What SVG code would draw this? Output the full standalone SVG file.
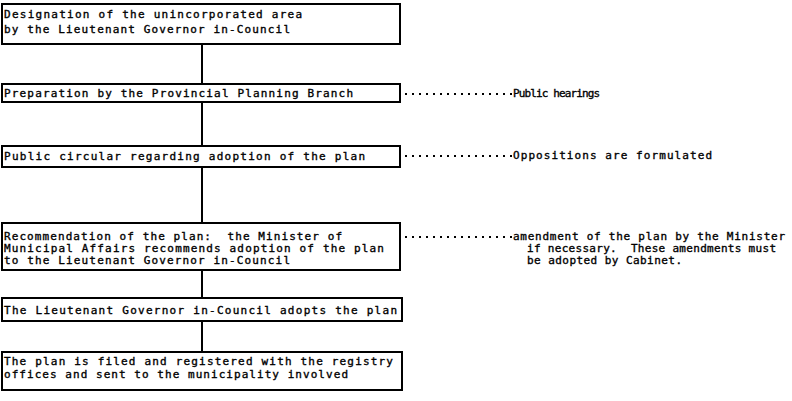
<svg xmlns="http://www.w3.org/2000/svg" width="792" height="401" viewBox="0 0 792 401">
  <style>
    .box { fill: #fff; stroke: #000; stroke-width: 2; }
    .t { font-family: "DejaVu Sans Mono", "Liberation Mono", monospace; font-size: 11px; fill: #000; stroke: #000; stroke-width: 0.35; white-space: pre; }
    .link { stroke: #000; stroke-width: 2; fill: none; }
    .dots { stroke: #000; stroke-width: 2; stroke-dasharray: 2 5; fill: none; }
  </style>
  <rect width="792" height="401" fill="#fff"/>

  <!-- vertical flow connectors and dotted side links -->
  <g id="connectors">
    <line class="link" x1="202" y1="44" x2="202" y2="84"/>
    <line class="link" x1="202" y1="102" x2="202" y2="146"/>
    <line class="link" x1="202" y1="167" x2="202" y2="223"/>
    <line class="link" x1="202" y1="270" x2="202" y2="298"/>
    <line class="link" x1="202" y1="321" x2="202" y2="352"/>
    <line class="dots" x1="405" y1="94" x2="513" y2="94"/>
    <line class="dots" x1="405" y1="156" x2="513" y2="156"/>
    <line class="dots" x1="405" y1="237" x2="513" y2="237"/>
  </g>

  <g id="designation">
    <rect class="box" x="2" y="4" width="398" height="40"/>
    <text class="t" x="4" y="18" textLength="298" lengthAdjust="spacing">Designation of the unincorporated area</text>
    <text class="t" x="4" y="33" textLength="286" lengthAdjust="spacing">by the Lieutenant Governor in-Council</text>
  </g>

  <g id="preparation">
    <rect class="box" x="2" y="84" width="398" height="18"/>
    <text class="t" x="4" y="97" textLength="349" lengthAdjust="spacing">Preparation by the Provincial Planning Branch</text>
  </g>

  <g id="circular">
    <rect class="box" x="2" y="146" width="398" height="21"/>
    <text class="t" x="4" y="160" textLength="361" lengthAdjust="spacing">Public circular regarding adoption of the plan</text>
  </g>

  <g id="recommendation">
    <rect class="box" x="2" y="223" width="398" height="47"/>
    <text class="t" x="4" y="240" textLength="338" lengthAdjust="spacing" xml:space="preserve">Recommendation of the plan:  the Minister of</text>
    <text class="t" x="4" y="252" textLength="380" lengthAdjust="spacing">Municipal Affairs recommends adoption of the plan</text>
    <text class="t" x="4" y="264" textLength="286" lengthAdjust="spacing">to the Lieutenant Governor in-Council</text>
  </g>

  <g id="adoption">
    <rect class="box" x="2" y="298" width="400" height="23"/>
    <text class="t" x="4" y="314" textLength="393" lengthAdjust="spacing">The Lieutenant Governor in-Council adopts the plan</text>
  </g>

  <g id="registration">
    <rect class="box" x="2" y="352" width="400" height="38"/>
    <text class="t" x="4" y="365" textLength="389" lengthAdjust="spacing">The plan is filed and registered with the registry</text>
    <text class="t" x="4" y="378" textLength="344" lengthAdjust="spacing">offices and sent to the municipality involved</text>
  </g>

  <g id="hearings">
    <text class="t" x="513" y="97" textLength="87" lengthAdjust="spacing">Public hearings</text>
  </g>

  <g id="oppositions">
    <text class="t" x="513" y="159" textLength="199" lengthAdjust="spacing">Oppositions are formulated</text>
  </g>

  <g id="amendment">
    <text class="t" x="513" y="240" textLength="272" lengthAdjust="spacing">amendment of the plan by the Minister</text>
    <text class="t" x="527" y="252" textLength="249" lengthAdjust="spacing" xml:space="preserve">if necessary.  These amendments must</text>
    <text class="t" x="527" y="264" textLength="155" lengthAdjust="spacing">be adopted by Cabinet.</text>
  </g>
</svg>
